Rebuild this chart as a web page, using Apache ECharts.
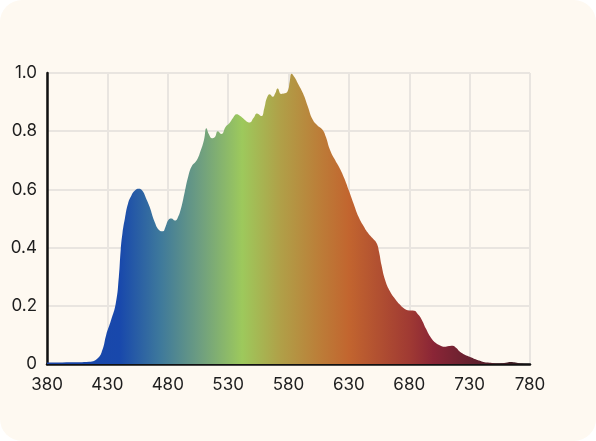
<!DOCTYPE html>
<html>
<head>
<meta charset="utf-8">
<script src="https://cdn.jsdelivr.net/npm/echarts@6/dist/echarts.min.js"></script>
<style>
  html, body { margin: 0; padding: 0; background: #ffffff; }
  #spectrum {
    width: 596px;
    height: 441px;
    background: #fef9f1;
    border-radius: 22px;
  }
</style>
</head>
<body>
<div id="spectrum"></div>
<script>
// wavelength (nm) and relative intensity
var wavelengths = [380, 400, 415, 422, 426, 429, 433, 437, 439.5, 441, 442.5, 444.5, 447, 450, 453, 456, 459, 462, 465, 469,
  473, 476, 478, 480.5, 483, 486, 488, 491, 494, 497, 500, 504, 507, 510, 512, 514, 516.5, 519, 521.5, 524.5,
  528, 531, 534, 537, 540, 543, 546, 548, 551, 554, 557.5, 560, 562, 564.5, 567, 569, 571, 574, 577, 579.5,
  581, 582.5, 585, 588, 592, 596, 600, 604, 608, 611, 614, 618, 622.5, 626, 630, 634, 638, 642, 646, 650,
  653, 655, 657, 660, 664, 668, 672, 676, 680, 684, 687, 690, 694, 698, 702, 706, 709, 713, 716, 719,
  722, 726, 730, 735, 740, 745, 750, 755, 760, 764, 768, 772, 780]
var intensity = [0.005, 0.006, 0.008, 0.02, 0.05, 0.1, 0.15, 0.21, 0.3, 0.39, 0.45, 0.50, 0.55, 0.58, 0.597, 0.602, 0.595, 0.57, 0.54, 0.49,
  0.46, 0.456, 0.47, 0.495, 0.50, 0.493, 0.50, 0.535, 0.59, 0.645, 0.68, 0.70, 0.73, 0.77, 0.81, 0.79, 0.776, 0.78, 0.80, 0.79,
  0.815, 0.827, 0.845, 0.858, 0.852, 0.842, 0.832, 0.83, 0.845, 0.861, 0.852, 0.88, 0.913, 0.927, 0.918, 0.93, 0.947, 0.928, 0.93, 0.94,
  0.97, 0.997, 0.985, 0.962, 0.93, 0.885, 0.84, 0.82, 0.806, 0.78, 0.74, 0.705, 0.672, 0.64, 0.596, 0.55, 0.506, 0.475, 0.449, 0.43,
  0.415, 0.385, 0.34, 0.289, 0.25, 0.225, 0.205, 0.19, 0.184, 0.183, 0.172, 0.155, 0.12, 0.09, 0.072, 0.063, 0.059, 0.062, 0.063, 0.055,
  0.042, 0.032, 0.025, 0.016, 0.009, 0.005, 0.003, 0.002, 0.004, 0.007, 0.005, 0.002, 0.001]

var chart = echarts.init(document.getElementById('spectrum'))

var labelFont = {
  color: '#1e1e1e',
  fontSize: 17,
  fontFamily: 'Inter'
}

chart.setOption({
  backgroundColor: 'transparent',
  animation: false,
  grid: {
    left: 47,
    right: 66,
    top: 73,
    bottom: 77
  },
  xAxis: {
    type: 'value',
    min: 380,
    max: 780,
    interval: 50,
    axisLine: { show: true, onZero: false, lineStyle: { color: '#111', width: 2.5 } },
    axisTick: { show: false },
    axisLabel: Object.assign({ margin: 12 }, labelFont),
    splitLine: { show: true, lineStyle: { color: '#e9e5e0', width: 2 } }
  },
  yAxis: {
    type: 'value',
    min: 0,
    max: 1,
    interval: 0.2,
    axisLine: { show: true, lineStyle: { color: '#111', width: 2.5 } },
    axisTick: { show: false },
    axisLabel: Object.assign({
      margin: 10,
      formatter: function (v) { return v === 0 ? '0' : v.toFixed(1) }
    }, labelFont),
    splitLine: { show: true, lineStyle: { color: '#e9e5e0', width: 2 } }
  },
  series: [
    {
      type: 'line',
      data: wavelengths.map(function (w, i) { return [w, intensity[i]] }),
      smooth: 0.5,
      showSymbol: false,
      lineStyle: { width: 0 },
      areaStyle: {
        opacity: 1,
        color: new echarts.graphic.LinearGradient(0, 0, 1, 0, [
          { offset: 0, color: '#1a45a6' },
          { offset: 0.15, color: '#1848ac' },
          { offset: 0.233, color: '#3d789c' },
          { offset: 0.317, color: '#6e9e80' },
          { offset: 0.404, color: '#9dc95c' },
          { offset: 0.483, color: '#b0a048' },
          { offset: 0.565, color: '#bc7d38' },
          { offset: 0.625, color: '#c2652f' },
          { offset: 0.75, color: '#a03a33' },
          { offset: 0.8, color: '#8a2536' },
          { offset: 0.9, color: '#5a1f2c' },
          { offset: 1, color: '#2a1a1e' }
        ])
      }
    }
  ]
})
</script>
</body>
</html>
